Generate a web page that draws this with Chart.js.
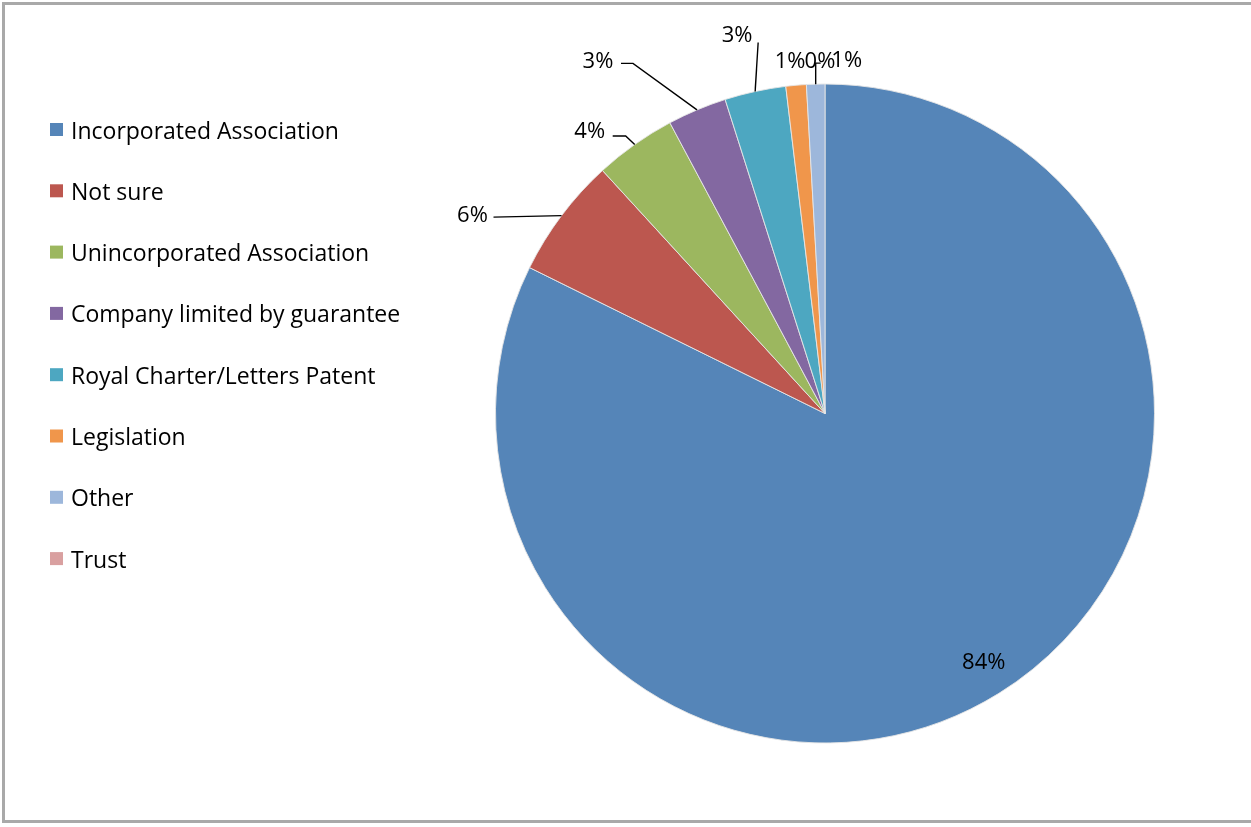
<!DOCTYPE html>
<html>
<head>
<meta charset="utf-8">
<script src="https://cdn.jsdelivr.net/npm/chart.js@4.4.1/dist/chart.umd.min.js"></script>
<style>
  html, body { margin:0; padding:0; background:#fff; }
  #frame { position:absolute; left:2px; top:2px; width:1260px; height:815px;
           border-left:3px solid #a9a9a9; border-top:3px solid #a9a9a9; border-bottom:3px solid #a9a9a9; }
  #wrap { position:absolute; left:0; top:0; width:1251px; height:827px; }
</style>
</head>
<body>
<div id="frame"></div>
<div id="wrap"><canvas id="pieChart"></canvas></div>
<script>
/* ── data ── */
const CATEGORIES = ['Incorporated Association','Not sure','Unincorporated Association','Company limited by guarantee','Royal Charter/Letters Patent','Legislation','Other','Trust'];
const SHARES     = [82.3, 5.9, 4.0, 2.9, 3.0, 1.0, 0.9, 0];
const LABEL_TEXT = ['84%','6%','4%','3%','3%','1%','1%','0%'];
const COLORS     = ['#5585B8','#BC574F','#9CB75F','#8368A1','#4DA7C1','#F0964B','#9DB7DB','#D9A0A0'];

const FONT = "'Open Sans', sans-serif";

/* label placement relative to each slice's outer-edge midpoint: text offset + leader path */
const LABEL_LAYOUT = [
  { inside:true, r:0.89 },
  { dx:-89, dy:0.5,   path:[[0,0],[-68,1.5]] },
  { dx:-45, dy:-12.5, path:[[0,0],[-9,-8.5],[-22,-8.5]] },
  { dx:-99, dy:-48.5, path:[[0,0],[-64,-46.5],[-76,-46.5]] },
  { dx:-18, dy:-56,   path:[[0,0],[3,-49]] },
  { dx:-6,  dy:-24 },
  { dx:31,  dy:-23,   path:[[0,0],[0,-21],[5,-21]] },
  { dx:-5,  dy:-22.5 },
];

const pieLabels = {
  id:'pieLabels',
  afterDatasetsDraw(chart) {
    const ctx = chart.ctx;
    const arcs = chart.getDatasetMeta(0).data;
    ctx.save();
    ctx.font = `22px ${FONT}`;
    ctx.fillStyle = '#000';
    ctx.strokeStyle = '#000';
    ctx.lineWidth = 1.4;
    ctx.textAlign = 'center';
    ctx.textBaseline = 'middle';
    arcs.forEach((arc, i) => {
      const p = arc.getProps(['x','y','startAngle','endAngle','outerRadius'], true);
      const mid = (p.startAngle + p.endAngle) / 2;
      const lay = LABEL_LAYOUT[i];
      if (lay.inside) {
        ctx.fillText(LABEL_TEXT[i], p.x + Math.cos(mid)*p.outerRadius*lay.r + 4, p.y + Math.sin(mid)*p.outerRadius*lay.r);
        return;
      }
      const ex = p.x + Math.cos(mid)*p.outerRadius, ey = p.y + Math.sin(mid)*p.outerRadius;
      if (lay.path) {
        ctx.beginPath();
        lay.path.forEach(([px,py],k) => k ? ctx.lineTo(ex+px, ey+py) : ctx.moveTo(ex+px, ey+py));
        ctx.stroke();
      }
      ctx.fillText(LABEL_TEXT[i], ex + lay.dx, ey + lay.dy);
    });
    ctx.restore();
  }
};

const sideLegend = {
  id:'sideLegend',
  afterDraw(chart) {
    const ctx = chart.ctx;
    const colors = chart.data.datasets[0].backgroundColor;
    ctx.save();
    ctx.font = `23px ${FONT}`;
    ctx.textBaseline = 'middle';
    ctx.textAlign = 'left';
    chart.data.labels.forEach((lab, i) => {
      const y = 123 + i*61.3;
      ctx.fillStyle = colors[i];
      ctx.fillRect(50, y, 13, 13);
      ctx.fillStyle = '#000';
      ctx.fillText(lab, 71, y + 9);
    });
    ctx.restore();
  }
};

function buildPie() {
  const ctx = document.getElementById('pieChart').getContext('2d');
  new Chart(ctx, {
    type:'pie',
    data:{
      labels: CATEGORIES,
      datasets:[{ data:SHARES, backgroundColor:COLORS, borderColor:'rgba(230,230,230,0.9)', borderWidth:1 }]
    },
    options:{
      responsive:true, maintainAspectRatio:false, animation:false,
      layout:{ padding:{ left:495, right:96, top:83.5, bottom:83.5 } },
      plugins:{ legend:{display:false}, tooltip:{enabled:false} }
    },
    plugins:[pieLabels, sideLegend]
  });
}

window.addEventListener('DOMContentLoaded', buildPie);
</script>
</body>
</html>
